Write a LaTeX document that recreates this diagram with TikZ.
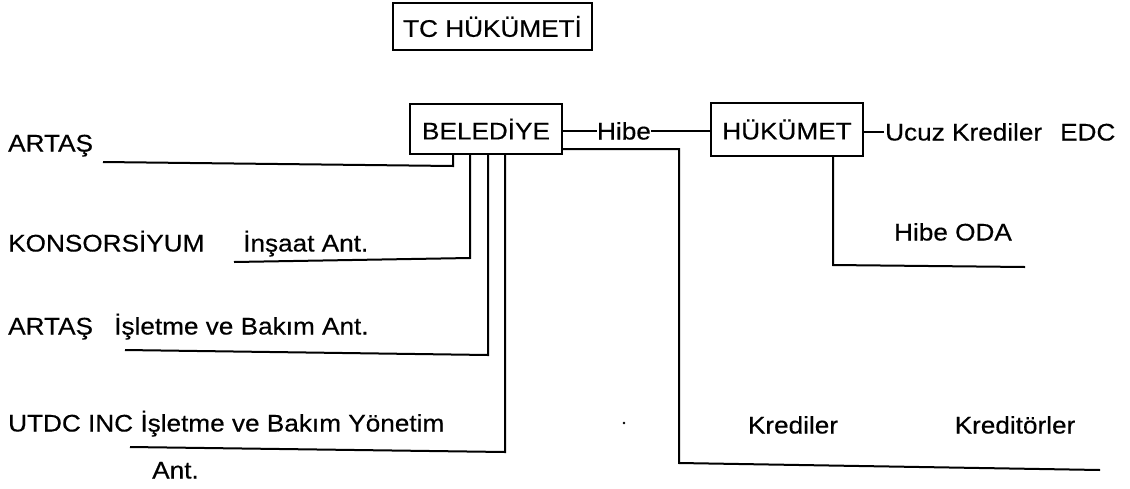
\documentclass[tikz,border=0pt]{standalone}
\usepackage{fontspec}
\setmainfont{Liberation Sans}[FakeStretch=1.09,FakeBold=0.4]
\newcommand{\lblf}{\fontsize{24}{28}\selectfont}
\begin{document}
\begin{tikzpicture}[x=1pt,y=-1pt,
  lbl/.style={inner sep=0pt, anchor=base west, font=\lblf},
  clbl/.style={inner sep=0pt, anchor=base, font=\lblf},
  boxnode/.style={draw, line width=2pt, inner sep=0pt, font=\lblf},
  link/.style={line width=2pt}]
\useasboundingbox (0,0) rectangle (1130,488);
% boxes
\node[boxnode, minimum width=199pt, minimum height=47pt] (tc) at (492.5,26.5) {TC HÜKÜMETİ};
\node[boxnode, minimum width=152pt, minimum height=50pt] (bel) at (486,129) {BELEDİYE};
\node[boxnode, minimum width=152pt, minimum height=53pt] (huk) at (787,129.5) {HÜKÜMET};
% labels
\node[clbl] (hibe) at (624,139.5) {Hibe};
\node[lbl] (ucuz) at (885,140.5) {Ucuz Krediler\hspace{18pt}EDC};
\node[lbl] (artas1) at (8,151.5) {ARTAŞ};
\node[lbl] (kons) at (8,251.5) {KONSORSİYUM};
\node[lbl] (insaat) at (243,251.5) {İnşaat Ant.};
\node[lbl] (artas2) at (8,334.5) {ARTAŞ};
\node[lbl] (isl1) at (114,334.5) {İşletme ve Bakım Ant.};
\node[lbl] (utdc) at (8,431.5) {UTDC INC İşletme ve Bakım Yönetim};
\node[lbl] (ant) at (152,478.5) {Ant.};
\node[clbl] (hoda) at (953,240.5) {Hibe ODA};
\node[clbl] (kred) at (793,433.5) {Krediler};
\node[clbl] (kredr) at (1015,433.5) {Kreditörler};
\fill (624,423) circle (1.3pt);
% coordinates
\coordinate (a1s) at (103,162);
\coordinate (a1c) at (453,166);
\coordinate (ks) at (234,262);
\coordinate (kc) at (470,258);
\coordinate (a2s) at (125,350);
\coordinate (a2c) at (488,355);
\coordinate (us) at (130,447);
\coordinate (uc) at (505,452);
\coordinate (bk1) at (679,149);
\coordinate (bk2) at (679,463);
\coordinate (bk3) at (1100,470);
\coordinate (h1) at (833,265);
\coordinate (h2) at (1025,267);
\coordinate (hb) at (0,131);
\coordinate (uz) at (0,132);
% connectors
\draw[link] (a1s) -- (a1c) -- (a1c |- bel.south);
\draw[link] (ks) -- (kc) -- (kc |- bel.south);
\draw[link] (a2s) -- (a2c) -- (a2c |- bel.south);
\draw[link] (us) -- (uc) -- (uc |- bel.south);
\draw[link] (bel.east |- bk1) -- (bk1) -- (bk2) -- (bk3);
\draw[link] (bel.east |- hb) -- (hibe.west |- hb);
\draw[link] (hibe.east |- hb) -- (huk.west |- hb);
\draw[link] (huk.east |- uz) -- ([xshift=-1pt]ucuz.west |- uz);
\draw[link] (h1 |- huk.south) -- (h1) -- (h2);
\end{tikzpicture}
\end{document}
